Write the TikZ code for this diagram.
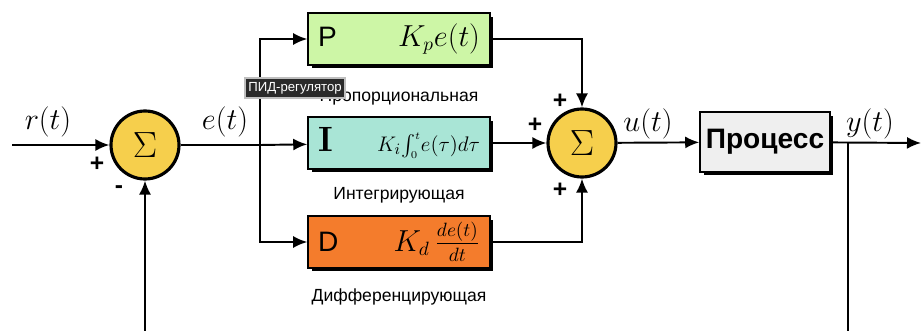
\documentclass[tikz,border=0pt]{standalone}
\usepackage{amsmath}
\usepackage{fontspec}
\usepackage{xcolor}
\usetikzlibrary{arrows.meta,shadows,positioning}
\newfontfamily\labelfont{Liberation Sans}

\definecolor{sumyellow}{HTML}{F6CF4C}
\definecolor{pgreen}{HTML}{CDF6A6}
\definecolor{iteal}{HTML}{A9E5D6}
\definecolor{dorange}{HTML}{F47C2C}
\definecolor{procgray}{HTML}{EFEFEF}
\definecolor{tipgray}{HTML}{2A2A2A}

\begin{document}
\begin{tikzpicture}[
    x=0.02cm, y=-0.02cm,
    line width=1.1pt,
    >={Latex[length=2.8mm,width=2.4mm]},
    sumnode/.style={circle, draw=black, line width=1.8pt, fill=sumyellow,
        minimum size=1.36cm, inner sep=0pt, font=\fontsize{20}{22}\selectfont},
    block/.style={draw=black, line width=0.9pt, minimum width=3.64cm,
        minimum height=1.04cm, inner sep=0pt,
        drop shadow={shadow xshift=0.07cm, shadow yshift=-0.07cm, opacity=1, fill=black},
        font=\fontsize{16}{18}\selectfont},
    blocklabel/.style={font=\labelfont\fontsize{10}{12}\selectfont, inner sep=1pt},
    signal/.style={font=\fontsize{16}{18}\selectfont, inner sep=0pt},
    sign/.style={font=\labelfont\bfseries\fontsize{14}{16}\selectfont, inner sep=0pt}]
    \useasboundingbox (0,0) rectangle (923,331);

    % NODES
    % summing junctions
    \node[sumnode] (S1) at (145,145) {$\Sigma$};
    \node[sumnode] (S2) at (582,143) {$\Sigma$};
    % P, I, D blocks
    \node[block, fill=pgreen] (Pbox) at (399,39)
        {\makebox[3.24cm]{\labelfont P\hfill$K_p e(t)$}};
    \node[block, fill=iteal] (Ibox) at (399,143)
        {\makebox[3.24cm]{\fontsize{20}{22}\selectfont\bfseries I\hfill
        {\fontsize{13}{15}\selectfont$K_i\!\int_{\scriptscriptstyle 0}^{\scriptscriptstyle t}\!e(\tau)d\tau$}}};
    \node[block, fill=dorange] (Dbox) at (399,242)
        {\makebox[3.24cm]{\labelfont D\hfill$K_d\,\frac{de(t)}{dt}$}};
    % plant
    \node[block, fill=procgray, minimum width=2.6cm, minimum height=1.2cm,
        font=\labelfont\bfseries\fontsize{16}{18}\selectfont] (Proc) at (765,142) {Процесс};
    % block captions
    \node[blocklabel, below=0.42cm of Pbox] (Pcap) {Пропорциональная};
    \node[blocklabel, below=0.3cm of Ibox] (Icap) {Интегрирующая};
    \node[blocklabel, below=0.35cm of Dbox] (Dcap) {Дифференцирующая};
    % signal names
    \node[signal] (r) at (48,122) {$r(t)$};
    \node[signal] (e) at (225,122) {$e(t)$};
    \node[signal] (u) at (648,124) {$u(t)$};
    \node[signal] (y) at (870,124) {$y(t)$};
    % signs
    \node[sign] (s1a) at (97,164) {+};
    \node[sign] (s1b) at (119,190) {-};
    \node[sign] (s2a) at (560,101) {+};
    \node[sign] (s2b) at (535,125) {+};
    \node[sign] (s2c) at (560,190) {+};
    % free ends and branch points
    \coordinate (in) at (12,145);
    \coordinate (br) at (260,145);
    \coordinate (out) at (921,143);
    \coordinate (tap) at (848,143);
    \coordinate (fbend) at (848,331);
    \coordinate (fbstart) at (145,331);

    % ARROWS
    \draw[->] (in) -- (S1);
    \draw (S1) -- (br);
    \draw[->] (br) -- (Ibox);
    \draw[->] (br) |- (Pbox);
    \draw[->] (br) |- (Dbox);
    \draw[->] (Pbox) -| (S2);
    \draw[->] (Ibox) -- (S2);
    \draw[->] (Dbox) -| (S2);
    \draw[->] (S2) -- (Proc);
    \draw[->] (Proc) -- (out);
    \draw (tap) -- (fbend);
    \draw[->] (fbstart) -- (S1);

    % tooltip
    \node[fill=tipgray, draw=gray!50, line width=0.6pt, text=white,
        font=\labelfont\fontsize{7.5}{9}\selectfont, minimum width=2cm,
        minimum height=0.4cm, inner sep=1pt] (tip) at (295,88) {ПИД-регулятор};
\end{tikzpicture}
\end{document}
